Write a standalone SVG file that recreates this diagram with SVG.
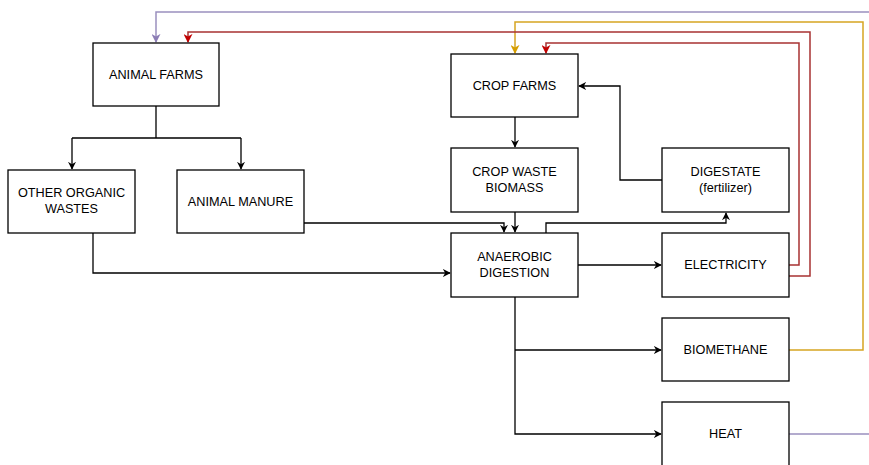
<svg xmlns="http://www.w3.org/2000/svg" width="869" height="465" viewBox="0 0 869 465">
<defs>
<style>
.box{fill:#fff;stroke:#000;stroke-width:1.3}
.t{font-family:"Liberation Sans",Arial,sans-serif;font-size:12.7px;fill:#000;text-anchor:middle}
.c{fill:none;stroke:#000;stroke-width:1.3}
.p{fill:none;stroke:#9a90bf;stroke-width:1.5}
.r{fill:none;stroke:#a83232;stroke-width:1.5}
.y{fill:none;stroke:#d6a522;stroke-width:1.5}
</style>
<marker id="a" viewBox="0 0 10 10" refX="9" refY="5" markerWidth="8" markerHeight="8" orient="auto" markerUnits="userSpaceOnUse"><path d="M0,0 L10,5 L0,10 L3,5 Z" fill="#000"/></marker>
<marker id="ap" viewBox="0 0 10 10" refX="9" refY="5" markerWidth="9" markerHeight="9" orient="auto" markerUnits="userSpaceOnUse"><path d="M0,0 L10,5 L0,10 L3,5 Z" fill="#8c7db5"/></marker>
<marker id="ar" viewBox="0 0 10 10" refX="9" refY="5" markerWidth="9" markerHeight="9" orient="auto" markerUnits="userSpaceOnUse"><path d="M0,0 L10,5 L0,10 L3,5 Z" fill="#c00000"/></marker>
<marker id="ay" viewBox="0 0 10 10" refX="9" refY="5" markerWidth="9" markerHeight="9" orient="auto" markerUnits="userSpaceOnUse"><path d="M0,0 L10,5 L0,10 L3,5 Z" fill="#d69e00"/></marker>
</defs>
<rect width="869" height="465" fill="#fff"/>
<g id="connectors">
<path class="c" d="M156,106 V138 M72,138 H241" />
<path class="c" d="M72,138 V169" marker-end="url(#a)"/>
<path class="c" d="M241,138 V169" marker-end="url(#a)"/>
<path class="c" d="M93,233 V273 H450" marker-end="url(#a)"/>
<path class="c" d="M304,223 H504 V232" marker-end="url(#a)"/>
<path class="c" d="M515,117 V147" marker-end="url(#a)"/>
<path class="c" d="M515,212 V232" marker-end="url(#a)"/>
<path class="c" d="M546,233 V223 H726 V213" marker-end="url(#a)"/>
<path class="c" d="M662,180 H620 V86 H579" marker-end="url(#a)"/>
<path class="c" d="M578,265 H661" marker-end="url(#a)"/>
<path class="c" d="M515,297 V434 H661" marker-end="url(#a)"/>
<path class="c" d="M515,350 H661" marker-end="url(#a)"/>
<path class="p" d="M789,434 H872 V12 H156 V42" marker-end="url(#ap)"/>
<path class="y" d="M789,350 H863 V22 H515 V53" marker-end="url(#ay)"/>
<path class="r" d="M789,276 H810 V32 H188 V42" marker-end="url(#ar)"/>
<path class="r" d="M789,265 H799 V43 H546 V53" marker-end="url(#ar)"/>
</g>
<g id="animal-farms"><rect class="box" x="93" y="43" width="126" height="63"/><text class="t" x="156" y="79">ANIMAL FARMS</text></g>
<g id="other-organic-wastes"><rect class="box" x="8" y="170" width="127" height="63"/><text class="t" x="71.5" y="197">OTHER ORGANIC</text><text class="t" x="71.5" y="213">WASTES</text></g>
<g id="animal-manure"><rect class="box" x="177" y="170" width="127" height="63"/><text class="t" x="240.5" y="206">ANIMAL MANURE</text></g>
<g id="crop-farms"><rect class="box" x="451" y="54" width="127" height="63"/><text class="t" x="514.5" y="90">CROP FARMS</text></g>
<g id="crop-waste-biomass"><rect class="box" x="451" y="148" width="127" height="64"/><text class="t" x="514.5" y="176">CROP WASTE</text><text class="t" x="514.5" y="192">BIOMASS</text></g>
<g id="anaerobic-digestion"><rect class="box" x="451" y="233" width="127" height="64"/><text class="t" x="514.5" y="261">ANAEROBIC</text><text class="t" x="514.5" y="277">DIGESTION</text></g>
<g id="digestate"><rect class="box" x="662" y="148" width="127" height="64"/><text class="t" x="725.5" y="176">DIGESTATE</text><text class="t" x="725.5" y="192">(fertilizer)</text></g>
<g id="electricity"><rect class="box" x="662" y="233" width="127" height="64"/><text class="t" x="725.5" y="269">ELECTRICITY</text></g>
<g id="biomethane"><rect class="box" x="662" y="318" width="127" height="63"/><text class="t" x="725.5" y="354">BIOMETHANE</text></g>
<g id="heat"><rect class="box" x="662" y="402" width="127" height="64"/><text class="t" x="725.5" y="438">HEAT</text></g>
</svg>
